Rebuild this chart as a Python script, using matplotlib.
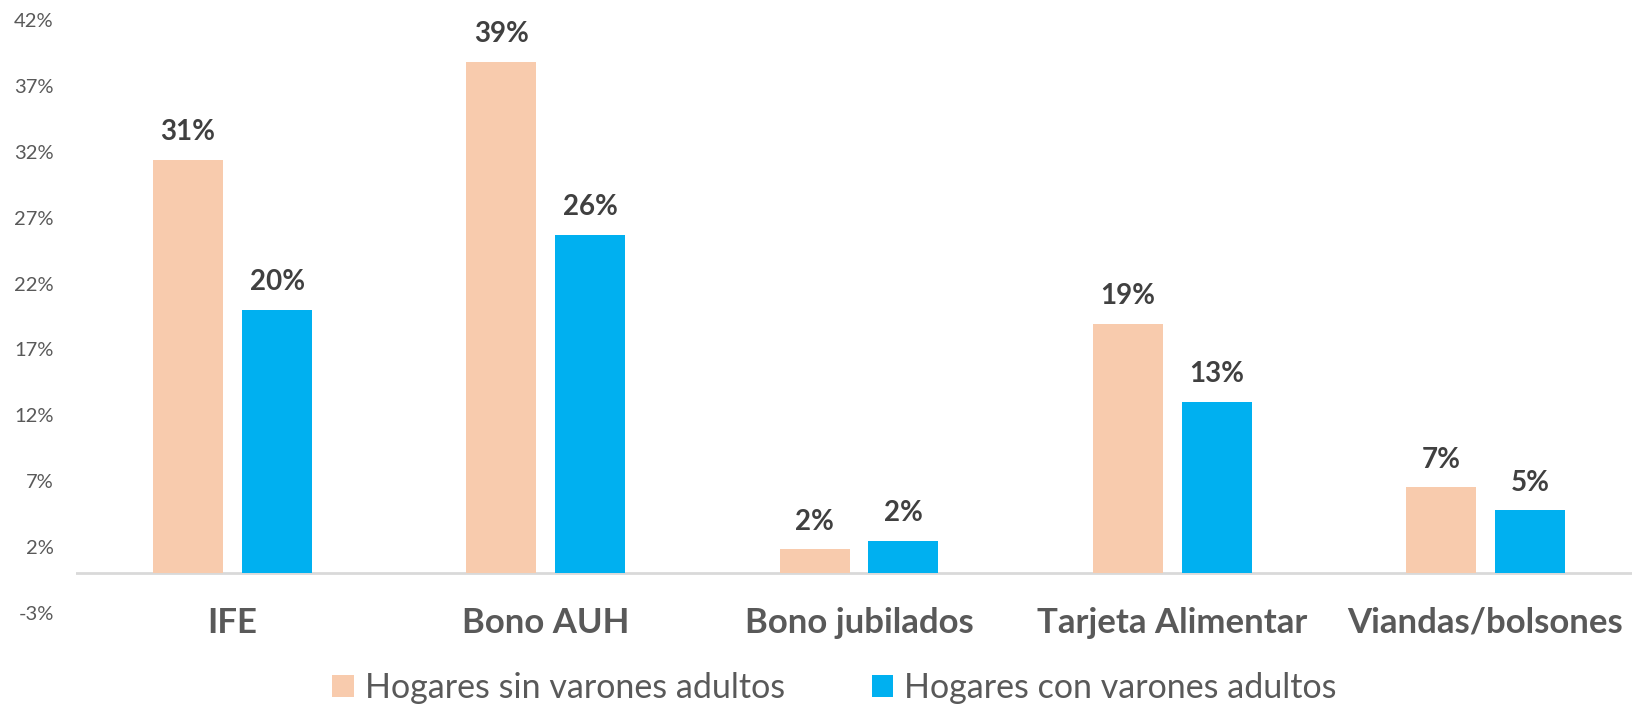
import matplotlib
matplotlib.use("Agg")
import matplotlib.pyplot as plt
import numpy as np

# ── Data ──────────────────────────────────────────────────────────────────
categories = ["IFE", "Bono AUH", "Bono jubilados", "Tarjeta Alimentar", "Viandas/bolsones"]
sin_varones = [31.4, 38.85, 1.86, 18.95, 6.56]
con_varones = [20.0, 25.7, 2.47, 13.03, 4.82]
sin_labels = ["31%", "39%", "2%", "19%", "7%"]
con_labels = ["20%", "26%", "2%", "13%", "5%"]
series_names = ["Hogares sin varones adultos", "Hogares con varones adultos"]
yticks = [-3, 2, 7, 12, 17, 22, 27, 32, 37, 42]

plt.rcParams["font.family"] = ["Lato", "DejaVu Sans"]

PEACH = "#F8CBAD"
BLUE = "#00B0F0"

fig = plt.figure(figsize=(16.32, 7.08), dpi=100)
ax = fig.add_axes([76 / 1632, 95 / 708, 1566 / 1632, 593 / 708])

x = np.arange(len(categories))
w = 0.2235
off = 0.142

b1 = ax.bar(x - off, sin_varones, w, color=PEACH, label=series_names[0])
b2 = ax.bar(x + off, con_varones, w, color=BLUE, label=series_names[1])

for bars, labels in ((b1, sin_labels), (b2, con_labels)):
    for rect, lab in zip(bars, labels):
        ax.annotate(lab, (rect.get_x() + rect.get_width() / 2, rect.get_height()),
                    textcoords="offset points", xytext=(0, 14),
                    ha="center", va="baseline", fontsize=20,
                    fontweight="bold", color="#404040")

ax.set_xlim(-0.5, len(categories) - 0.5)
ax.set_ylim(-3, 42)
ax.set_yticks(yticks)
ax.set_yticklabels([f"{t}%" for t in yticks])
ax.set_xticks(x)
ax.set_xticklabels(categories, fontsize=25, fontweight="bold", color="#595959",
                   va="baseline")

ax.tick_params(axis="y", length=0, pad=16, labelsize=14.5, labelcolor="#595959")
ax.tick_params(axis="x", length=0, pad=14.4)

for s in ("top", "right", "left", "bottom"):
    ax.spines[s].set_visible(False)
ax.axhline(0, color="#D9D9D9", linewidth=2, zorder=0)

fig.legend(handles=[b1, b2], loc="center",
           bbox_to_anchor=(834.5 / 1632, 1 - 688 / 708), ncol=2,
           frameon=False, fontsize=24.5, labelcolor="#595959",
           handlelength=0.62, handleheight=0.62, handletextpad=0.33,
           columnspacing=2.55)

fig.savefig("out.png", dpi=100)
